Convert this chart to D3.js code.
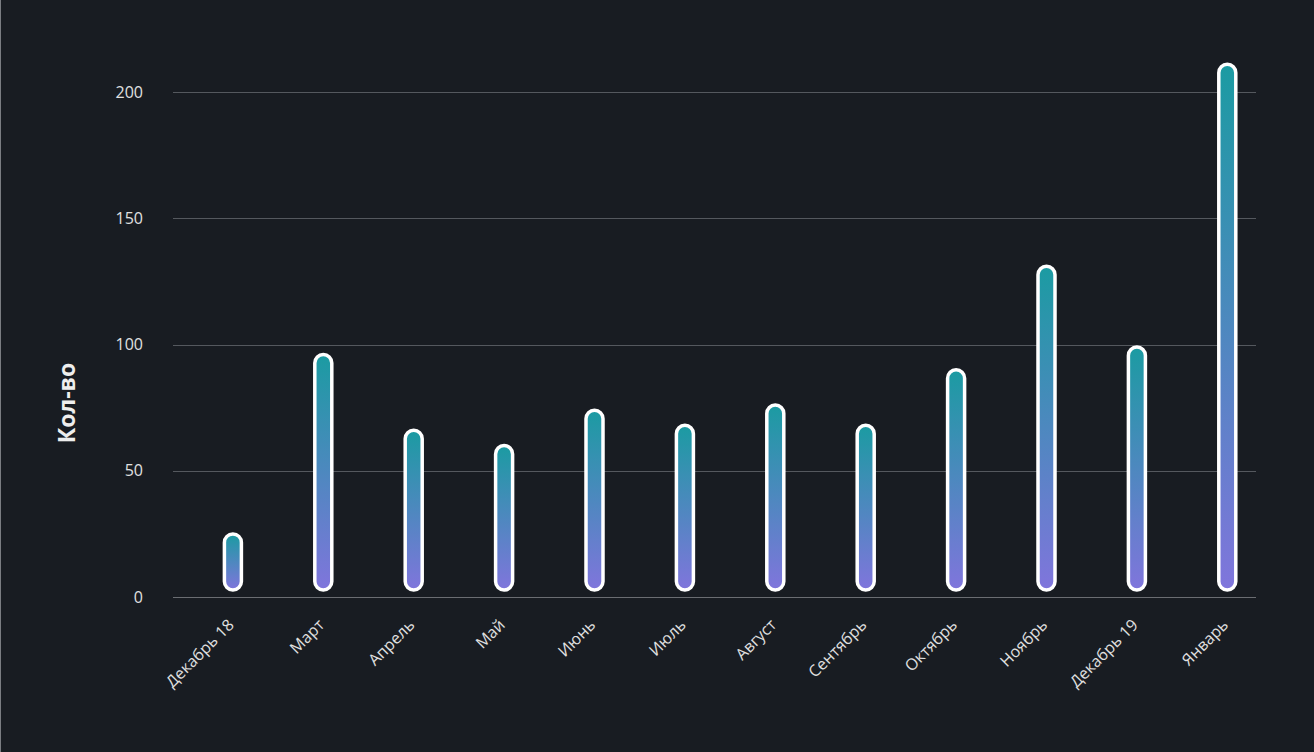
<!DOCTYPE html>
<html><head><meta charset="utf-8">
<script src="https://cdn.jsdelivr.net/npm/d3@7/dist/d3.min.js"></script>
<style>
html,body{margin:0;padding:0;background:#181c22;}
svg{display:block;font-family:"Open Sans",sans-serif;}
</style></head>
<body><svg id="chart" width="1314" height="752"></svg>
<script>
const categories = ["Декабрь 18","Март","Апрель","Май","Июнь","Июль","Август","Сентябрь","Октябрь","Ноябрь","Декабрь 19","Январь"];
const values = [25, 96, 66, 60, 74, 68, 76, 68, 90, 131, 99, 211];
const yTicks = [0, 50, 100, 150, 200];
const yTitle = "Кол-во";

const W = 1314, H = 752;
const svg = d3.select("#chart");
svg.append("rect").attr("width", W).attr("height", H).attr("fill", "#181c22");
svg.append("line").attr("x1", 0.5).attr("x2", 0.5).attr("y1", 0).attr("y2", H).attr("stroke", "#7a7d82").attr("stroke-width", 1);

const plot = {left: 173, right: 1256, top: 92, bottom: 597};
const y = d3.scaleLinear().domain([0, 200]).range([plot.bottom, plot.top]);
const x = d3.scaleBand().domain(categories).range([187.7, 1272.5]);

const defs = svg.append("defs");
const grad = defs.append("linearGradient").attr("id", "barGrad")
  .attr("x1", 0).attr("y1", 0).attr("x2", 0).attr("y2", 1);
grad.append("stop").attr("offset", "0%").attr("stop-color", "#1b9ba2");
grad.append("stop").attr("offset", "100%").attr("stop-color", "#8075dc");

// grid
svg.append("g").selectAll("line").data(yTicks).join("line")
  .attr("x1", plot.left).attr("x2", plot.right)
  .attr("y1", d => Math.round(y(d)) + 0.5).attr("y2", d => Math.round(y(d)) + 0.5)
  .attr("stroke", d => d === 0 ? "#6a6d72" : "#54585e").attr("stroke-width", 1);

// y labels
svg.append("g").selectAll("text").data(yTicks).join("text")
  .attr("x", 143).attr("y", d => y(d)).attr("dy", "0.35em")
  .attr("text-anchor", "end").attr("fill", "#e0e0e0").attr("font-size", 16)
  .text(d => d);

// y title
svg.append("text").attr("transform", "translate(75,403) rotate(-90)")
  .attr("text-anchor", "middle").attr("fill", "#eeeeee")
  .attr("font-size", 23).attr("font-weight", "bold").text(yTitle);

// bars
const bw = 17;
svg.append("g").selectAll("rect").data(values).join("rect")
  .attr("x", (d, i) => x(categories[i]) + x.bandwidth() / 2 - bw / 2)
  .attr("width", bw)
  .attr("y", d => y(d))
  .attr("height", d => y(0) - 7 - y(d))
  .attr("rx", bw / 2).attr("ry", bw / 2)
  .attr("fill", "url(#barGrad)")
  .attr("stroke", "#ffffff").attr("stroke-width", 3.5);

// x labels
svg.append("g").selectAll("text").data(categories).join("text")
  .attr("transform", d => `translate(${x(d) + x.bandwidth() / 2 - 2},${622}) rotate(-45)`)
  .attr("text-anchor", "end").attr("dy", "0.35em")
  .attr("fill", "#e0e0e0").attr("font-size", 16)
  .text(d => d);
</script></body></html>
